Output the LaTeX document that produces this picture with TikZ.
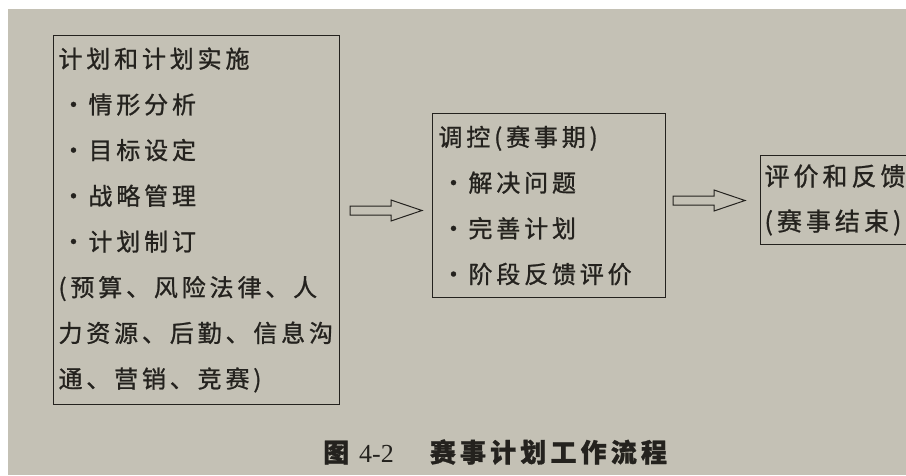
\documentclass[tikz,border=0pt]{standalone}
\usepackage{fontspec}
\setmainfont{Liberation Serif}
\newfontfamily\cjk[LetterSpace=16,FakeBold=1]{Noto Sans CJK SC}
\usetikzlibrary{calc,positioning}
\definecolor{paper}{RGB}{196,193,181}
\definecolor{ink}{RGB}{36,34,30}
\newcommand{\itm}{\makebox[30pt][c]{・}}
\tikzset{stagebox/.style={draw=ink,line width=1pt,anchor=north west,align=left,inner xsep=7pt,text=ink,
    font=\cjk\fontsize{24pt}{45.7pt}\selectfont},
  hollowarrow/.style={draw=ink,line width=1pt,to path={let \p1=(\tikztostart),\p2=(\tikztotarget) in
    (\x1,{\y1-4.5pt}) -- ({\x2-31pt},{\y1-4.5pt}) -- ({\x2-31pt},{\y1-10.5pt}) -- (\x2,\y1)
    -- ({\x2-31pt},{\y1+10.5pt}) -- ({\x2-31pt},{\y1+4.5pt}) -- (\x1,{\y1+4.5pt}) -- cycle}}}

\begin{document}
\begin{tikzpicture}[x=1pt,y=-1pt]
                \useasboundingbox (0,0) rectangle (906,475);
                \fill[white] (0,0) rectangle (906,475);
                \fill[paper] (8,9) rectangle (906,475);
                \node[stagebox,inner xsep=5pt,text width=276pt,minimum height=367pt,inner ysep=12pt] (plan) at (53,35)
                    {计划和计划实施\\ \itm 情形分析\\ \itm 目标设定\\ \itm 战略管理\\ \itm 计划制订\\
                    (预算、风险法律、人\\ 力资源、后勤、信息沟\\ 通、营销、竞赛)};
                \node[stagebox,inner xsep=6pt,text width=221pt,minimum height=184pt,inner ysep=12pt] (ctrl) at (432,113)
                    {调控(赛事期)\\ \itm 解决问题\\ \itm 完善计划\\ \itm 阶段反馈评价};
                % the third box is cut by the page edge
                \node[stagebox,draw=none,inner xsep=4pt,text width=130pt,minimum height=87pt,inner ysep=9pt,
                    font=\cjk\fontsize{25pt}{45pt}\selectfont] (eval) at (760,155)
                    {评价和反馈\\ (赛事结束)};
                \draw[ink,line width=1pt] (eval.north west -| 906,0) -- (eval.north west) -- (eval.south west) -- (eval.south west -| 906,0);
                \coordinate (a1s) at ($(plan.east |- ctrl.west)+(10pt,-5pt)$);
                \coordinate (a1e) at ($(ctrl.west)+(-10pt,-5pt)$);
                \coordinate (a2s) at ($(ctrl.east)+(7pt,5pt)$);
                \coordinate (a2e) at ($(eval.west |- a2s)+(-15pt,0pt)$);
                \draw[hollowarrow] (a1s) to (a1e);
                \draw[hollowarrow] (a2s) to (a2e);
                \node[anchor=west,inner sep=0pt,text=ink,font=\fontsize{26pt}{28pt}\selectfont] (caption) at (323,452)
                    {{\cjk\bfseries 图}\hspace{10pt}4-2\hspace{36pt}{\cjk\bfseries 赛事计划工作流程}};
            \end{tikzpicture}
\end{document}
